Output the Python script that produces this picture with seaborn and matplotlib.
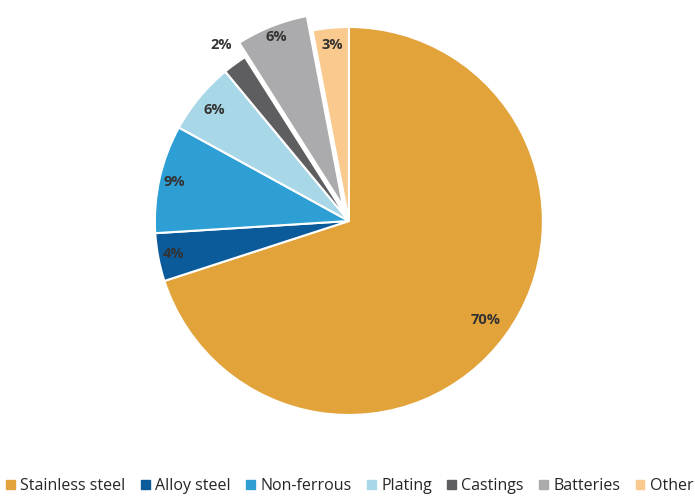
import numpy as np
import matplotlib
matplotlib.use('Agg')
import matplotlib.pyplot as plt
import seaborn as sns

# Dados
categorias = ['Stainless steel', 'Alloy steel', 'Non-ferrous', 'Plating',
              'Castings', 'Batteries', 'Other']
valores = [70, 4, 9, 6, 2, 6, 3]
rotulos = ['70%', '4%', '9%', '6%', '2%', '6%', '3%']
cores = ['#E2A33B', '#0B5A9A', '#2E9FD4', '#A8D8E8', '#5E5E60', '#ABABAD', '#F9C98E']
afastamento = [0, 0, 0, 0, 0, 0.08, 0]
dist_rotulo = [0.87, 0.92, 0.92, 0.9, 1.12, 0.94, 0.91]

sns.set_theme(style='white')
plt.rcParams['font.family'] = ['Open Sans', 'DejaVu Sans']

fig = plt.figure(figsize=(6.95, 5.0), dpi=100)
ax = fig.add_axes([0.153, 0.073, 0.698, 0.97])

wedges, _ = ax.pie(valores, colors=cores, startangle=90, counterclock=False,
                   explode=afastamento, radius=1,
                   wedgeprops=dict(edgecolor='white', linewidth=1.5))

for w, txt, d, e in zip(wedges, rotulos, dist_rotulo, afastamento):
    ang = np.deg2rad((w.theta1 + w.theta2) / 2)
    r = d + e
    ax.text(r * np.cos(ang), r * np.sin(ang), txt, ha='center', va='center',
            fontsize=10.5, fontweight='bold', color='#333333')

ax.set_xlim(-1.25, 1.25)
ax.set_ylim(-1.25, 1.25)
ax.set_aspect('equal')
ax.axis('off')

handles = [plt.Rectangle((0, 0), 1, 1, color=c) for c in cores]
fig.legend(handles, categorias, loc='lower left', bbox_to_anchor=(0.004, 0.005),
           ncol=7, frameon=False, fontsize=11.5, handlelength=0.55, handleheight=0.55,
           handletextpad=0.35, columnspacing=0.95, borderaxespad=0.0,
           borderpad=0.2)

fig.savefig('out.png', dpi=100)
